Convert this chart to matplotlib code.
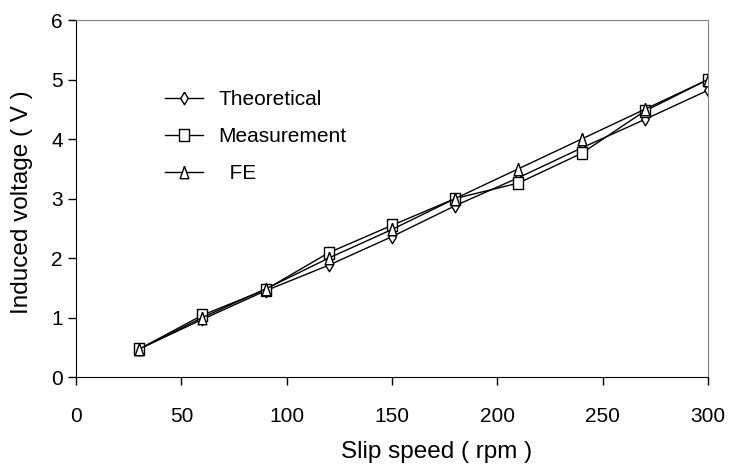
import matplotlib
matplotlib.use("Agg")
import matplotlib.pyplot as plt

plt.rcParams['font.family'] = ['Liberation Sans', 'DejaVu Sans']

speed = [30, 60, 90, 120, 150, 180, 210, 240, 270, 300]
theoretical = [0.47, 0.97, 1.45, 1.88, 2.36, 2.88, 3.35, 3.85, 4.33, 4.82]
measurement = [0.47, 1.04, 1.47, 2.09, 2.55, 3.00, 3.26, 3.76, 4.47, 5.00]
fe = [0.47, 1.00, 1.48, 2.00, 2.48, 3.00, 3.50, 4.00, 4.50, 5.00]

# slightly tall marker outlines
diamond = [(0, 0.6), (0.36, 0), (0, -0.6), (-0.36, 0), (0, 0.6)]
square = [(-0.46, -0.6), (0.46, -0.6), (0.46, 0.6), (-0.46, 0.6), (-0.46, -0.6)]
triangle = [(0, 0.6), (0.42, -0.6), (-0.42, -0.6), (0, 0.6)]

fig = plt.figure(figsize=(7.31, 4.68), dpi=100)
ax = fig.add_axes([0.104, 0.1944, 0.8646, 0.7628])

common = dict(color='black', lw=1.0, markerfacecolor='white',
              markeredgecolor='black', markeredgewidth=1.0)
ax.plot(speed, theoretical, marker=diamond, markersize=9, label='Theoretical', **common)
ax.plot(speed, measurement, marker=square, markersize=8.5, label='Measurement', **common)
ax.plot(speed, fe, marker=triangle, markersize=9, label='  FE', **common)

ax.set_xlim(0, 300)
ax.set_ylim(0, 6)
ax.set_xticks(range(0, 301, 50))
ax.set_yticks(range(0, 7))
ax.tick_params(axis='both', direction='out', length=5.5, width=1, labelsize=15)
ax.tick_params(axis='y', pad=4)
ax.tick_params(axis='x', pad=16)

for side in ('top', 'right'):
    ax.spines[side].set_color('#808080')
for side in ('left', 'bottom'):
    ax.spines[side].set_color('black')

ax.set_xlabel('Slip speed ( rpm )', fontsize=17.5)
ax.xaxis.set_label_coords(0.571, -0.21)
ax.xaxis.label.set_verticalalignment('center')
ax.set_ylabel('Induced voltage ( V )', fontsize=17.5)
ax.yaxis.set_label_coords(-0.085, 0.49)
ax.yaxis.label.set_verticalalignment('center')

ax.legend(loc='upper left', bbox_to_anchor=(0.141, 0.804), frameon=False,
          fontsize=15, handlelength=1.8, labelspacing=0.86, handletextpad=0.75,
          borderpad=0, borderaxespad=0)

fig.savefig('out.png', dpi=100)
